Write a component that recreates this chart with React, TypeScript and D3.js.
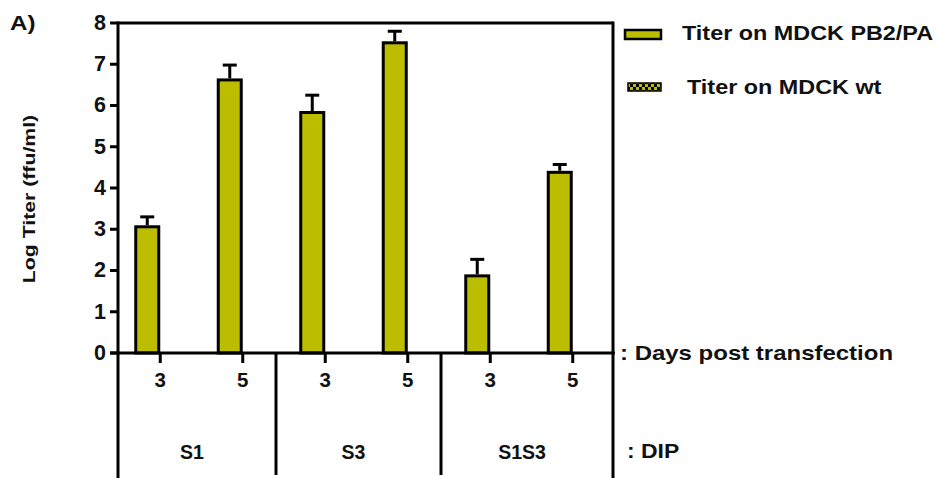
import React from "react";
import * as d3 from "d3";

const groups = ["S1", "S3", "S1S3"];
const days = ["3", "5"];
const seriesNames = ["Titer on MDCK PB2/PA", "Titer on MDCK wt"];
const pb2Values = [3.06, 6.62, 5.83, 7.52, 1.87, 4.38];
const pb2Errors = [0.24, 0.36, 0.42, 0.28, 0.4, 0.19];
const wtValues = [0, 0, 0, 0, 0, 0];
const yTicks = [0, 1, 2, 3, 4, 5, 6, 7, 8];

const W = 937;
const H = 478;
const FONT = "'Liberation Sans', Arial, sans-serif";
const FILL = "#bdbd00";

function T({
  x,
  y,
  size,
  anchor = "start",
  rotate = 0,
  sx = 1,
  children,
}: {
  x: number;
  y: number;
  size: number;
  anchor?: string;
  rotate?: number;
  sx?: number;
  children: React.ReactNode;
}) {
  return (
    <g transform={`translate(${x},${y}) rotate(${rotate}) scale(${sx},1)`}>
      <text
        x={0}
        y={0}
        dy="0.36em"
        textAnchor={anchor}
        fontSize={size}
        fontWeight="bold"
        fill="#111"
      >
        {children}
      </text>
    </g>
  );
}

export default function App() {
  const cats = groups.flatMap((g) => days.map((d) => `${g}-${d}`));
  const x = d3.scaleBand<string>().domain(cats).range([119, 614]);
  const step = x.step();
  const x1 = d3
    .scaleBand<string>()
    .domain(seriesNames)
    .range([step / 2 - 26, step / 2 + 26]);
  const y = d3.scaleLinear().domain([0, 8]).range([353, 23]);
  const bw = x1.bandwidth();
  const frameL = 118;
  const frameR = 613;

  const dividers = groups.map((g, i) =>
    i === 0 ? frameL : (x(`${g}-${days[0]}`) as number) - 8
  );
  const bounds = [...dividers, frameR];

  return (
    <svg
      width={W}
      height={H}
      style={{ position: "absolute", left: 0, top: 0, background: "#fff" }}
      fontFamily={FONT}
    >
      <defs>
        <pattern id="checker" width="6" height="6" patternUnits="userSpaceOnUse">
          <rect width="6" height="6" fill={FILL} />
          <rect width="3" height="3" fill="#000" />
          <rect x="3" y="3" width="3" height="3" fill="#000" />
        </pattern>
      </defs>

      <T x={10} y={22} size={21} sx={1.15}>
        A)
      </T>

      {/* Y axis title */}
      <T x={29} y={(y(0) + y(8)) / 2 + 11} size={17} anchor="middle" rotate={-90} sx={1.25}>
        Log Titer (ffu/ml)
      </T>

      {/* Bars */}
      {cats.map((c, i) => (
        <g key={c}>
          {[pb2Values[i], wtValues[i]].map((v, s) =>
            v > 0 ? (
              <rect
                key={s}
                x={(x(c) as number) + (x1(seriesNames[s]) as number) + 1.5}
                y={y(v)}
                width={bw - 3}
                height={y(0) - y(v)}
                fill={s === 0 ? FILL : "url(#checker)"}
                stroke="#000"
                strokeWidth={3}
              />
            ) : null
          )}
          {(() => {
            const cx = (x(c) as number) + (x1(seriesNames[0]) as number) + bw / 2;
            const top = y(pb2Values[i] + pb2Errors[i]);
            return (
              <g stroke="#000" strokeWidth={3}>
                <line x1={cx} x2={cx} y1={y(pb2Values[i]) - 1.5} y2={top} />
                <line x1={cx - 7} x2={cx + 7} y1={top} y2={top} />
              </g>
            );
          })()}
        </g>
      ))}

      {/* Frame */}
      <g stroke="#000" strokeWidth={3} fill="none">
        <line x1={frameL} x2={frameR} y1={y(8)} y2={y(8)} />
        <line x1={frameR} x2={frameR} y1={y(8) - 1.5} y2={H} />
        <line x1={frameL} x2={frameL} y1={y(8) - 1.5} y2={H} />
        <line x1={frameL - 8} x2={frameR + 2} y1={y(0)} y2={y(0)} />
        {dividers.slice(1).map((d, i) => (
          <line key={i} x1={d} x2={d} y1={y(0)} y2={H - 3} />
        ))}
      </g>

      {/* Y ticks */}
      {yTicks.map((t) => (
        <g key={t}>
          <line x1={frameL - 8} x2={frameL} y1={y(t)} y2={y(t)} stroke="#000" strokeWidth={3} />
          <T x={frameL - 12} y={y(t) - 1} size={21.5} anchor="end">
            {t}
          </T>
        </g>
      ))}

      {/* X day ticks */}
      {cats.map((c, i) => {
        const cx = (x(c) as number) + step / 2;
        return (
          <g key={c}>
            <line x1={cx} x2={cx} y1={y(0)} y2={y(0) + 10} stroke="#000" strokeWidth={3} />
            <T x={cx} y={y(0) + 26.5} size={20.5} anchor="middle">
              {days[i % days.length]}
            </T>
          </g>
        );
      })}

      {/* Group labels */}
      {groups.map((g, i) => (
        <T key={g} x={(bounds[i] + bounds[i + 1]) / 2 - 5} y={452} size={19.5} anchor="middle">
          {g}
        </T>
      ))}

      <T x={620} y={352.5} size={20.5} sx={1.17}>
        : Days post transfection
      </T>
      <T x={627} y={450.5} size={20.5} sx={1.12}>
        : DIP
      </T>

      {/* Legend */}
      <rect x={625} y={30} width={36} height={9} fill={FILL} stroke="#000" strokeWidth={2.5} />
      <T x={682} y={32.5} size={19.5} sx={1.2}>
        {seriesNames[0]}
      </T>
      <rect x={628} y={83} width={33} height={8} fill="url(#checker)" stroke="#000" strokeWidth={1.5} />
      <T x={687} y={86.5} size={19.5} sx={1.2}>
        {seriesNames[1]}
      </T>
    </svg>
  );
}
